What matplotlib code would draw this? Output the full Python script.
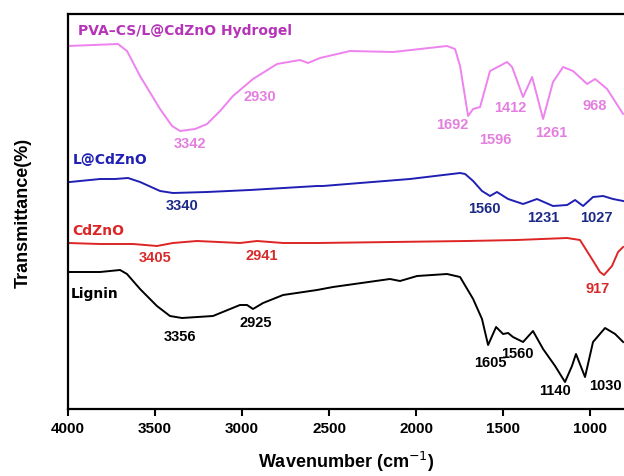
import numpy as np
import matplotlib
matplotlib.use("Agg")
import matplotlib.pyplot as plt

# FTIR traces (wavenumber in cm-1, transmittance in arbitrary offset units)
hydro_wn = [4000, 3713, 3661, 3586, 3471, 3402, 3356, 3270, 3201, 3126, 3052, 2937, 2799, 2667,
            2621, 2552, 2379, 2132, 1977, 1822, 1776, 1747, 1701, 1672, 1632, 1575, 1477, 1448,
            1385, 1333, 1270, 1213, 1155, 1098, 1017, 971, 902, 810]
hydro_t = [363, 365, 358, 333, 300, 283, 278, 280, 285, 298, 313, 330, 345, 349,
           346, 351, 358, 357, 360, 363, 360, 343, 293, 300, 302, 338, 347, 342,
           312, 332, 290, 327, 342, 338, 325, 330, 320, 295]

lcdzno_wn = [3989, 3816, 3730, 3655, 3586, 3471, 3397, 3201, 2954, 2569, 2535, 2322, 2035, 1747,
             1718, 1672, 1621, 1575, 1535, 1471, 1385, 1305, 1213, 1132, 1086, 1040, 983, 925,
             868, 810]
lcdzno_t = [227, 230, 230, 231, 227, 218, 216, 217, 219, 223, 223, 226, 230, 236,
            235, 228, 218, 213, 217, 210, 205, 210, 203, 204, 209, 203, 212, 213,
            210, 208]

cdzno_wn = [4000, 3816, 3626, 3557, 3489, 3397, 3259, 3012, 2914, 2764, 2569, 1707, 1420, 1132,
            1058, 1000, 943, 920, 874, 839, 810]
cdzno_t = [166, 165, 165, 164, 163, 166, 168, 166, 168, 166, 166, 168, 169, 171,
           169, 153, 137, 134, 143, 157, 162]

lignin_wn = [4000, 3816, 3701, 3661, 3586, 3489, 3414, 3345, 3167, 3012, 2971, 2937, 2879, 2764,
             2569, 2477, 2150, 2092, 1994, 1822, 1747, 1672, 1621, 1586, 1540, 1500, 1471, 1443,
             1385, 1328, 1270, 1201, 1144, 1104, 1081, 1029, 983, 914, 856, 810]
lignin_t = [137, 137, 139, 135, 120, 103, 93, 91, 93, 104, 104, 100, 106, 114,
            119, 122, 130, 128, 133, 135, 132, 110, 90, 64, 82, 75, 76, 72,
            67, 78, 60, 43, 27, 43, 55, 32, 67, 81, 75, 67]

# peak labels: (text, wavenumber, y)
hydro_peaks = [("3342", 3299, 266), ("2930", 2897, 313), ("1692", 1793, 285), ("1596", 1546, 270),
               ("1412", 1460, 302), ("1261", 1224, 277), ("968", 971, 304)]
lcdzno_peaks = [("3340", 3345, 204), ("1560", 1609, 201), ("1231", 1270, 192), ("1027", 966, 192)]
cdzno_peaks = [("3405", 3500, 152), ("2941", 2885, 154), ("917", 954, 121)]
lignin_peaks = [("3356", 3356, 73), ("2925", 2920, 87), ("1605", 1575, 47), ("1560", 1420, 56),
                ("1140", 1201, 19), ("1030", 914, 24)]

c_pink, c_pink_txt, c_title = "#ee82ee", "#e47fe0", "#b634b8"
c_blue, c_blue_txt = "#1f1fb4", "#1c2a86"
c_red, c_red_txt = "#dd2525", "#d82a2a"

plt.rcParams['font.family'] = ['Liberation Sans', 'DejaVu Sans']

fig = plt.figure(figsize=(6.24, 4.77), dpi=100)
ax = fig.add_axes([68 / 624, 1 - 410 / 477, 1 - 68 / 624, (410 - 15) / 477])

ax.plot(hydro_wn, hydro_t, color=c_pink, lw=1.4)
ax.plot(lcdzno_wn, lcdzno_t, color=c_blue, lw=1.4)
ax.plot(cdzno_wn, cdzno_t, color=c_red, lw=1.4)
ax.plot(lignin_wn, lignin_t, color="black", lw=1.4)

pk = dict(fontsize=10.5, fontweight='bold', ha='center', va='center')
for txt, x, y in hydro_peaks:
    ax.text(x, y, txt, color=c_pink_txt, **pk)
for txt, x, y in lcdzno_peaks:
    ax.text(x, y, txt, color=c_blue_txt, **pk)
for txt, x, y in cdzno_peaks:
    ax.text(x, y, txt, color=c_red_txt, **pk)
for txt, x, y in lignin_peaks:
    ax.text(x, y, txt, color="black", **pk)

nm = dict(fontsize=10, fontweight='bold', ha='left', va='center', family=['DejaVu Sans'])
ax.text(3943, 379, "PVA–CS/L@CdZnO Hydrogel", color=c_title, **nm)
ax.text(3971, 250, "L@CdZnO", color=c_blue, **nm)
ax.text(3977, 179, "CdZnO", color=c_red, **nm)
ax.text(3983, 116, "Lignin", color="black", **nm)

ax.set_xlim(4000, 805)
ax.set_ylim(0, 395)
ax.set_xticks([4000, 3500, 3000, 2500, 2000, 1500, 1000])
ax.set_yticks([])
ax.tick_params(axis='x', direction='out', length=5, width=1.5, labelsize=11, pad=4)
for lab in ax.get_xticklabels():
    lab.set_fontweight('bold')
for s in ['left', 'bottom', 'top']:
    ax.spines[s].set_linewidth(1.6)
ax.spines['right'].set_visible(False)

ax.set_xlabel("Wavenumber (cm$^{-1}$)", fontsize=13, fontweight='bold', labelpad=10)
ax.set_ylabel("Transmittance(%)", fontsize=13, fontweight='bold', labelpad=26)

plt.savefig("out.png", dpi=100)
